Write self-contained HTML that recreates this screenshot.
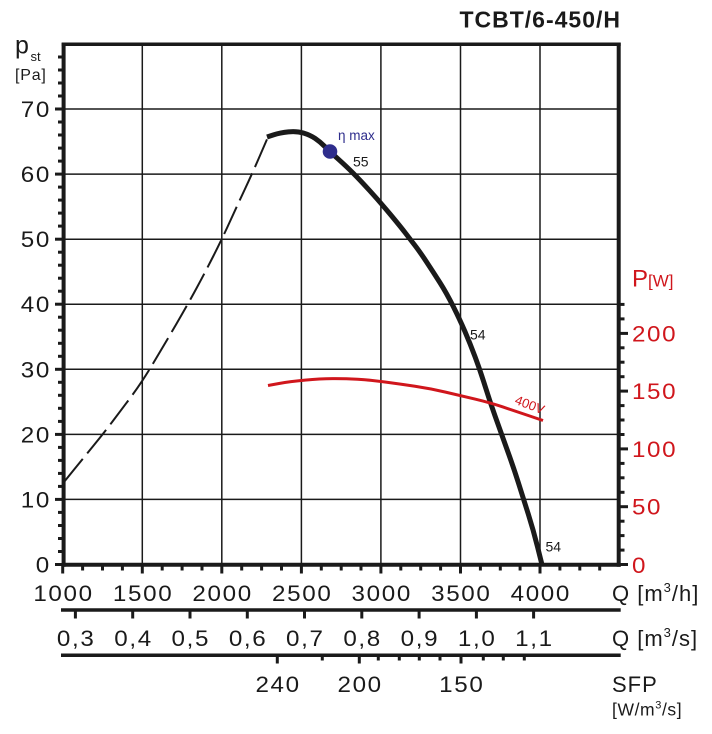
<!DOCTYPE html>
<html><head><meta charset="utf-8"><style>
html,body{margin:0;padding:0;background:#fff;}
svg{display:block;}
text{font-family:"Liberation Sans",Arial,sans-serif;}
</style></head><body>
<svg width="712" height="734" viewBox="0 0 712 734" xmlns="http://www.w3.org/2000/svg">
<rect width="712" height="734" fill="#fff"/>
<!-- title -->
<text x="621" y="27.5" font-size="23" font-weight="bold" text-anchor="end" letter-spacing="1" fill="#1a1a1a">TCBT/6-450/H</text>
<!-- grid -->
<g stroke="#1a1a1a" stroke-width="1.5">
<line x1="142.3" y1="44" x2="142.3" y2="564"/>
<line x1="221.8" y1="44" x2="221.8" y2="564"/>
<line x1="301.4" y1="44" x2="301.4" y2="564"/>
<line x1="380.9" y1="44" x2="380.9" y2="564"/>
<line x1="460.5" y1="44" x2="460.5" y2="564"/>
<line x1="540.0" y1="44" x2="540.0" y2="564"/>
<line x1="63" y1="499.4" x2="618" y2="499.4"/>
<line x1="63" y1="434.4" x2="618" y2="434.4"/>
<line x1="63" y1="369.3" x2="618" y2="369.3"/>
<line x1="63" y1="304.2" x2="618" y2="304.2"/>
<line x1="63" y1="239.2" x2="618" y2="239.2"/>
<line x1="63" y1="174.1" x2="618" y2="174.1"/>
<line x1="63" y1="109.0" x2="618" y2="109.0"/>
</g>
<!-- frame -->
<g stroke="#1a1a1a" fill="none">
<line x1="61.7" y1="44.3" x2="620.7" y2="44.3" stroke-width="3.5"/>
<line x1="63.6" y1="42.7" x2="63.6" y2="566.7" stroke-width="4"/>
<line x1="618.7" y1="42.7" x2="618.7" y2="566.7" stroke-width="4"/>
<line x1="61.7" y1="564.7" x2="620.7" y2="564.7" stroke-width="4"/>
</g>
<!-- left ticks every 2 Pa -->
<g stroke="#1a1a1a" stroke-width="3">
<line x1="55" y1="564.5" x2="62" y2="564.5"/>
<line x1="58" y1="551.5" x2="62" y2="551.5"/><line x1="58" y1="538.5" x2="62" y2="538.5"/><line x1="58" y1="525.5" x2="62" y2="525.5"/><line x1="58" y1="512.4" x2="62" y2="512.4"/>
<line x1="55" y1="499.4" x2="62" y2="499.4"/>
<line x1="58" y1="486.4" x2="62" y2="486.4"/><line x1="58" y1="473.4" x2="62" y2="473.4"/><line x1="58" y1="460.4" x2="62" y2="460.4"/><line x1="58" y1="447.4" x2="62" y2="447.4"/>
<line x1="55" y1="434.4" x2="62" y2="434.4"/>
<line x1="58" y1="421.4" x2="62" y2="421.4"/><line x1="58" y1="408.3" x2="62" y2="408.3"/><line x1="58" y1="395.3" x2="62" y2="395.3"/><line x1="58" y1="382.3" x2="62" y2="382.3"/>
<line x1="55" y1="369.3" x2="62" y2="369.3"/>
<line x1="58" y1="356.3" x2="62" y2="356.3"/><line x1="58" y1="343.3" x2="62" y2="343.3"/><line x1="58" y1="330.2" x2="62" y2="330.2"/><line x1="58" y1="317.2" x2="62" y2="317.2"/>
<line x1="55" y1="304.2" x2="62" y2="304.2"/>
<line x1="58" y1="291.2" x2="62" y2="291.2"/><line x1="58" y1="278.2" x2="62" y2="278.2"/><line x1="58" y1="265.2" x2="62" y2="265.2"/><line x1="58" y1="252.2" x2="62" y2="252.2"/>
<line x1="55" y1="239.2" x2="62" y2="239.2"/>
<line x1="58" y1="226.1" x2="62" y2="226.1"/><line x1="58" y1="213.1" x2="62" y2="213.1"/><line x1="58" y1="200.1" x2="62" y2="200.1"/><line x1="58" y1="187.1" x2="62" y2="187.1"/>
<line x1="55" y1="174.1" x2="62" y2="174.1"/>
<line x1="58" y1="161.1" x2="62" y2="161.1"/><line x1="58" y1="148.1" x2="62" y2="148.1"/><line x1="58" y1="135.0" x2="62" y2="135.0"/><line x1="58" y1="122.0" x2="62" y2="122.0"/>
<line x1="55" y1="109.0" x2="62" y2="109.0"/>
<line x1="58" y1="96.0" x2="62" y2="96.0"/><line x1="58" y1="83.0" x2="62" y2="83.0"/><line x1="58" y1="70.0" x2="62" y2="70.0"/><line x1="58" y1="57.0" x2="62" y2="57.0"/>
</g>
<!-- bottom ticks every 125 m3/h -->
<g stroke="#1a1a1a" stroke-width="3">
<line x1="62.7" y1="566" x2="62.7" y2="573.5"/>
<line x1="82.6" y1="566" x2="82.6" y2="570.5"/><line x1="102.5" y1="566" x2="102.5" y2="570.5"/><line x1="122.4" y1="566" x2="122.4" y2="570.5"/>
<line x1="142.3" y1="566" x2="142.3" y2="573.5"/>
<line x1="162.2" y1="566" x2="162.2" y2="570.5"/><line x1="182.1" y1="566" x2="182.1" y2="570.5"/><line x1="202.0" y1="566" x2="202.0" y2="570.5"/>
<line x1="221.8" y1="566" x2="221.8" y2="573.5"/>
<line x1="241.7" y1="566" x2="241.7" y2="570.5"/><line x1="261.6" y1="566" x2="261.6" y2="570.5"/><line x1="281.5" y1="566" x2="281.5" y2="570.5"/>
<line x1="301.4" y1="566" x2="301.4" y2="573.5"/>
<line x1="321.3" y1="566" x2="321.3" y2="570.5"/><line x1="341.2" y1="566" x2="341.2" y2="570.5"/><line x1="361.0" y1="566" x2="361.0" y2="570.5"/>
<line x1="380.9" y1="566" x2="380.9" y2="573.5"/>
<line x1="400.8" y1="566" x2="400.8" y2="570.5"/><line x1="420.7" y1="566" x2="420.7" y2="570.5"/><line x1="440.6" y1="566" x2="440.6" y2="570.5"/>
<line x1="460.5" y1="566" x2="460.5" y2="573.5"/>
<line x1="480.4" y1="566" x2="480.4" y2="570.5"/><line x1="500.3" y1="566" x2="500.3" y2="570.5"/><line x1="520.1" y1="566" x2="520.1" y2="570.5"/>
<line x1="540.0" y1="566" x2="540.0" y2="573.5"/>
<line x1="559.9" y1="566" x2="559.9" y2="570.5"/><line x1="579.8" y1="566" x2="579.8" y2="570.5"/><line x1="599.7" y1="566" x2="599.7" y2="570.5"/>
</g>
<!-- right ticks every 12.5 W -->
<g stroke="#1a1a1a" stroke-width="3">
<line x1="620" y1="564.5" x2="628" y2="564.5"/>
<line x1="620" y1="550.1" x2="624.5" y2="550.1"/><line x1="620" y1="535.6" x2="624.5" y2="535.6"/><line x1="620" y1="521.2" x2="624.5" y2="521.2"/>
<line x1="620" y1="506.7" x2="628" y2="506.7"/>
<line x1="620" y1="492.3" x2="624.5" y2="492.3"/><line x1="620" y1="477.8" x2="624.5" y2="477.8"/><line x1="620" y1="463.4" x2="624.5" y2="463.4"/>
<line x1="620" y1="448.9" x2="628" y2="448.9"/>
<line x1="620" y1="434.5" x2="624.5" y2="434.5"/><line x1="620" y1="420.0" x2="624.5" y2="420.0"/><line x1="620" y1="405.6" x2="624.5" y2="405.6"/>
<line x1="620" y1="391.1" x2="628" y2="391.1"/>
<line x1="620" y1="376.7" x2="624.5" y2="376.7"/><line x1="620" y1="362.2" x2="624.5" y2="362.2"/><line x1="620" y1="347.8" x2="624.5" y2="347.8"/>
<line x1="620" y1="333.4" x2="628" y2="333.4"/>
<line x1="620" y1="318.9" x2="624.5" y2="318.9"/><line x1="620" y1="304.4" x2="624.5" y2="304.4"/>
</g>
<!-- curves -->
<path fill="none" stroke="#1a1a1a" stroke-width="2" stroke-dasharray="30 7"
 d="M64,482 L73.5,470.25 Q83,458.5 93,446.25 Q103,434 112.5,421.5 Q122,409 132,395.5 Q142,382 153.5,362.75 Q165,343.5 176.5,323.75 Q188,304 196.5,288.25 Q205,272.5 213.5,255.75 Q222,239 229.5,222.5 Q237,206 244.5,190 Q252,174 260,155.5 L268,137"/>
<path fill="none" stroke="#1a1a1a" stroke-width="5" stroke-linejoin="round"
 d="M267,137 L273.5,134.85 Q280,132.7 288.35,131.85 Q296.7,131 303.35,133 Q310,135 315,138.35 Q320,141.7 325,146.7 Q330,151.7 338.35,159.2 Q346.7,166.7 353.35,173.35 Q360,180 370,191 Q380,202 390,214 Q400,226 405,232.5 Q410,239 415,245.5 Q420,252 426.5,261.85 Q433,271.7 439.85,282.5 Q446.7,293.3 453.35,306.65 Q460,320 465,331.65 Q470,343.3 475,356.65 Q480,370 485,385.85 Q490,401.7 495,415.85 Q500,430 506.65,448.35 Q513.3,466.7 518.3,482.5 Q523.3,498.3 528.3,514.15 Q533.3,530 537.5,546.75 L541.7,563.5"/>
<path fill="none" stroke="#d0161c" stroke-width="3" stroke-linejoin="round"
 d="M268,385.5 L279,383.5 Q290,381.5 305,380.1 Q320,378.7 332.5,378.6 Q345,378.5 357.5,379.25 Q370,380 385,382 Q400,384 415,386.25 Q430,388.5 445,392 Q460,395.5 475,399.1 Q490,402.7 502.5,406.85 Q515,411 529,415.75 L543,420.5"/>
<circle cx="330" cy="151.5" r="7.3" fill="#2e2d8c"/>
<text x="338" y="140" font-size="13.5" fill="#2e2d8c">η max</text>
<text x="353" y="166.7" font-size="14" fill="#1a1a1a">55</text>
<text x="470" y="339.3" font-size="14" fill="#1a1a1a">54</text>
<text x="545.5" y="551.7" font-size="14" fill="#1a1a1a">54</text>
<text x="0" y="0" font-size="13" fill="#d0161c" transform="translate(514,403.5) rotate(21)">400V</text>
<!-- left axis labels -->
<g transform="scale(1.1,1)" font-size="22" letter-spacing="1.5" text-anchor="end" fill="#1a1a1a">
<text x="46.3" y="572.5">0</text>
<text x="46.3" y="507.4">10</text>
<text x="46.3" y="442.4">20</text>
<text x="46.3" y="377.3">30</text>
<text x="46.3" y="312.2">40</text>
<text x="46.3" y="247.2">50</text>
<text x="46.3" y="182.1">60</text>
<text x="46.3" y="117.0">70</text>
</g>
<text x="15" y="53.5" font-size="25" fill="#1a1a1a">p</text>
<text x="30.5" y="61" font-size="13" fill="#1a1a1a">st</text>
<text x="15" y="80" font-size="16" letter-spacing="0.8" fill="#1a1a1a">[Pa]</text>
<!-- right axis labels -->
<g transform="scale(1.1,1)" font-size="22" letter-spacing="1.5" fill="#d0161c">
<text x="574.5" y="573">0</text>
<text x="574.5" y="514.7">50</text>
<text x="574.5" y="456.9">100</text>
<text x="574.5" y="399.1">150</text>
<text x="574.5" y="341.4">200</text>
</g>
<text x="632" y="286.5" font-size="24" fill="#d0161c">P<tspan font-size="17">[W]</tspan></text>
<!-- bottom axis labels -->
<g transform="scale(1.1,1)" font-size="22" letter-spacing="1.5" text-anchor="middle" fill="#1a1a1a">
<text x="57.75" y="601">1000</text>
<text x="130.11" y="601">1500</text>
<text x="202.39" y="601">2000</text>
<text x="274.75" y="601">2500</text>
<text x="347.02" y="601">3000</text>
<text x="419.39" y="601">3500</text>
<text x="491.66" y="601">4000</text>
</g>
<text x="612" y="601" font-size="22" letter-spacing="1" fill="#1a1a1a">Q [m<tspan font-size="13" dy="-9">3</tspan><tspan dy="9">/h]</tspan></text>
<!-- m3/s axis -->
<line x1="61" y1="610" x2="620.7" y2="610" stroke="#1a1a1a" stroke-width="3.5"/>
<g stroke="#1a1a1a" stroke-width="3">
<line x1="75.4" y1="611" x2="75.4" y2="618.5"/>
<line x1="132.7" y1="611" x2="132.7" y2="618.5"/>
<line x1="190.0" y1="611" x2="190.0" y2="618.5"/>
<line x1="247.3" y1="611" x2="247.3" y2="618.5"/>
<line x1="304.5" y1="611" x2="304.5" y2="618.5"/>
<line x1="361.8" y1="611" x2="361.8" y2="618.5"/>
<line x1="419.1" y1="611" x2="419.1" y2="618.5"/>
<line x1="476.4" y1="611" x2="476.4" y2="618.5"/>
<line x1="533.6" y1="611" x2="533.6" y2="618.5"/>
</g>
<g transform="scale(1.1,1)" font-size="22" letter-spacing="1.5" text-anchor="middle" fill="#1a1a1a">
<text x="69.3" y="646">0,3</text>
<text x="121.39" y="646">0,4</text>
<text x="173.48" y="646">0,5</text>
<text x="225.57" y="646">0,6</text>
<text x="277.57" y="646">0,7</text>
<text x="329.66" y="646">0,8</text>
<text x="381.75" y="646">0,9</text>
<text x="433.84" y="646">1,0</text>
<text x="485.84" y="646">1,1</text>
</g>
<text x="612" y="646" font-size="22" letter-spacing="1" fill="#1a1a1a">Q [m<tspan font-size="13" dy="-9">3</tspan><tspan dy="9">/s]</tspan></text>
<!-- SFP axis -->
<line x1="61" y1="655.3" x2="620.7" y2="655.3" stroke="#1a1a1a" stroke-width="3.5"/>
<g stroke="#1a1a1a" stroke-width="3">
<line x1="277.3" y1="656" x2="277.3" y2="663.5"/>
<line x1="322.3" y1="656" x2="322.3" y2="660.5"/>
<line x1="359.3" y1="656" x2="359.3" y2="663.5"/>
<line x1="378.3" y1="656" x2="378.3" y2="660.5"/>
<line x1="399.3" y1="656" x2="399.3" y2="660.5"/>
<line x1="419.3" y1="656" x2="419.3" y2="660.5"/>
<line x1="440.0" y1="656" x2="440.0" y2="660.5"/>
<line x1="461.0" y1="656" x2="461.0" y2="663.5"/>
<line x1="483.3" y1="656" x2="483.3" y2="660.5"/>
<line x1="503.3" y1="656" x2="503.3" y2="660.5"/>
<line x1="524.3" y1="656" x2="524.3" y2="660.5"/>
</g>
<g transform="scale(1.1,1)" font-size="22" letter-spacing="1.5" text-anchor="middle" fill="#1a1a1a">
<text x="252.84" y="692">240</text>
<text x="327.39" y="692">200</text>
<text x="419.84" y="692">150</text>
</g>
<text x="612" y="692" font-size="22" letter-spacing="1" fill="#1a1a1a">SFP</text>
<text x="612" y="715.5" font-size="17.5" letter-spacing="0.6" fill="#1a1a1a">[W/m<tspan font-size="11" dy="-7">3</tspan><tspan dy="7">/s]</tspan></text>
</svg>
</body></html>
